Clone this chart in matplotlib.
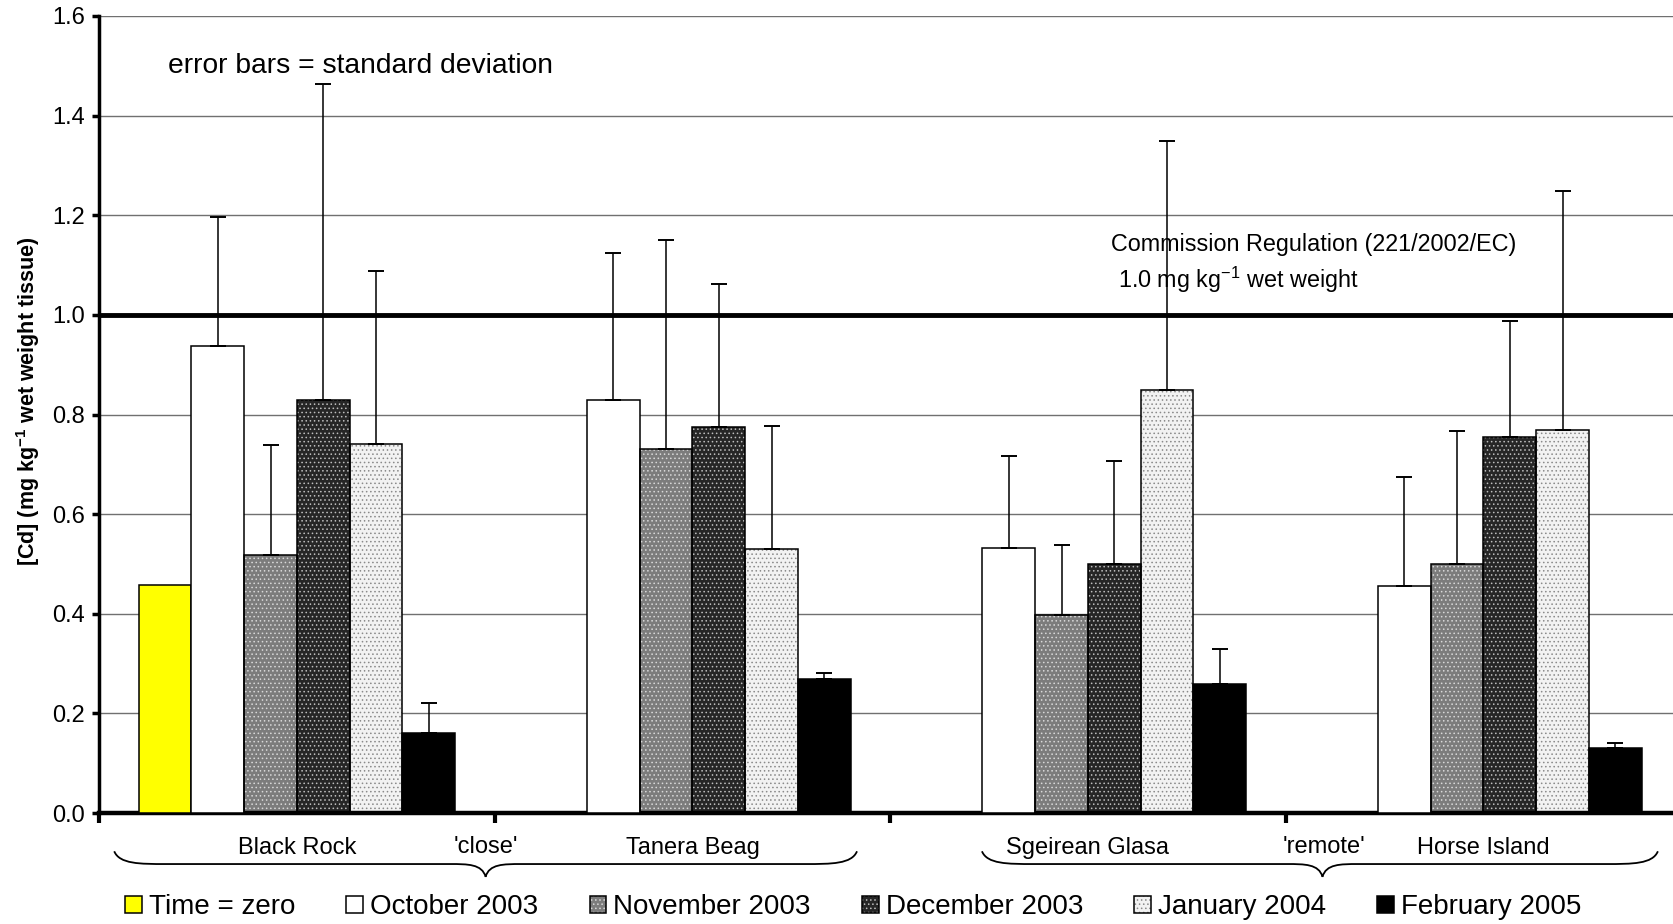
import numpy as np
import matplotlib
matplotlib.use('Agg')
import matplotlib.pyplot as plt
from matplotlib.patches import Patch, PathPatch
from matplotlib.path import Path
from matplotlib.legend_handler import HandlerTuple

plt.rcParams['font.family'] = ['Liberation Sans', 'DejaVu Sans']
plt.rcParams['mathtext.default'] = 'regular'
plt.rcParams['hatch.linewidth'] = 0.6

nan = np.nan
sites = ['Black Rock', 'Tanera Beag', 'Sgeirean Glasa', 'Horse Island']
series_names = ['Time = zero', 'October 2003', 'November 2003',
                'December 2003', 'January 2004', 'February 2005']

time_zero = [0.458, nan, nan, nan]
oct_2003 = [0.938, 0.829, 0.533, 0.456]
nov_2003 = [0.518, 0.730, 0.398, 0.499]
dec_2003 = [0.829, 0.775, 0.499, 0.754]
jan_2004 = [0.741, 0.531, 0.850, 0.769]
feb_2005 = [0.160, 0.270, 0.259, 0.131]

time_zero_sd = [nan, nan, nan, nan]
oct_2003_sd = [0.259, 0.295, 0.184, 0.219]
nov_2003_sd = [0.221, 0.420, 0.140, 0.268]
dec_2003_sd = [0.634, 0.287, 0.208, 0.233]
jan_2004_sd = [0.347, 0.246, 0.499, 0.480]
feb_2005_sd = [0.060, 0.011, 0.071, 0.010]

regulation_limit = 1.0
y_ticks = [0.0, 0.2, 0.4, 0.6, 0.8, 1.0, 1.2, 1.4, 1.6]

means = [time_zero, oct_2003, nov_2003, dec_2003, jan_2004, feb_2005]
sds = [time_zero_sd, oct_2003_sd, nov_2003_sd, dec_2003_sd, jan_2004_sd, feb_2005_sd]

# styles: (face, hatch, hatch colour)
styles = [
    ('#ffff00', None, None),
    ('#ffffff', None, None),
    ('#7c7c7c', '....', '#d8d8d8'),
    ('#262626', '....', '#bdbdbd'),
    ('#f2f2f2', '....', '#8a8a8a'),
    ('#000000', None, None),
]

fig = plt.figure(figsize=(16.73, 9.24), dpi=100)
ax = fig.add_axes([0.0593, 0.1201, 0.9456, 0.8626])

x = np.arange(len(sites))
w = 1 / 7.5
edge_lw = 1.1

legend_handles = []
for k, (vals, sd, (face, hatch, hcol)) in enumerate(zip(means, sds, styles)):
    vals = np.array(vals, dtype=float)
    sd = np.array(sd, dtype=float)
    xs = x + (k - 2.5) * w
    ok = ~np.isnan(vals)
    if hatch:
        ax.bar(xs[ok], vals[ok], width=w, color=face, hatch=hatch,
               edgecolor=hcol, linewidth=0, zorder=2)
        ax.bar(xs[ok], vals[ok], width=w, fill=False, edgecolor='black',
               linewidth=edge_lw, zorder=3)
        h = (Patch(facecolor=face, hatch=hatch, edgecolor=hcol, linewidth=0),
             Patch(fill=False, edgecolor='black', linewidth=edge_lw))
    else:
        ax.bar(xs[ok], vals[ok], width=w, color=face, edgecolor='black',
               linewidth=edge_lw, zorder=3)
        h = (Patch(facecolor=face, edgecolor='black', linewidth=edge_lw),)
    legend_handles.append(h)
    ek = ok & ~np.isnan(sd)
    if ek.any():
        ax.errorbar(xs[ek], vals[ek], yerr=[np.zeros(ek.sum()), sd[ek]],
                    fmt='none', ecolor='black', elinewidth=1.1, capsize=6,
                    capthick=1.4, zorder=4)

ax.axhline(regulation_limit, color='black', lw=3.5, zorder=5)

ax.set_xlim(-0.5, 3.5)
ax.set_ylim(0, 1.6)
ax.set_yticks(y_ticks)
ax.set_yticklabels([f'{t:.1f}' for t in y_ticks], fontsize=17)
ax.yaxis.grid(True, color='#707070', lw=1.0)
ax.set_axisbelow(True)

ax.set_xticks(x)
ax.set_xticklabels(sites, fontsize=17)
ax.tick_params(axis='x', which='major', length=0, pad=17)
ax.set_xticks([-0.5, 0.5, 1.5, 2.5, 3.5], minor=True)
ax.tick_params(axis='x', which='minor', length=7, width=3, direction='out')
ax.tick_params(axis='y', which='major', length=5, width=2.5, direction='out', pad=5)

for s in ['top', 'right']:
    ax.spines[s].set_visible(False)
ax.spines['left'].set_linewidth(2.5)
ax.spines['bottom'].set_linewidth(3.2)

ax.set_ylabel('[Cd] (mg kg$^{-1}$ wet weight tissue)', fontsize=15.5,
              fontweight='bold')
ax.yaxis.set_label_coords(-0.036, 0.516)

ax.text(-0.325, 1.50, 'error bars = standard deviation', fontsize=20.3,
        ha='left', va='center')
ax.text(2.059, 1.142, 'Commission Regulation (221/2002/EC)', fontsize=16.8,
        ha='left', va='center')
ax.text(2.075, 1.071, '1.0 mg kg$^{-1}$ wet weight', fontsize=16.8,
        ha='left', va='center')

tr = ax.get_xaxis_transform()
ax.text(0.477, -0.042, "'close'", transform=tr, fontsize=17,
        ha='center', va='center')
ax.text(2.596, -0.042, "'remote'", transform=tr, fontsize=17,
        ha='center', va='center')


def brace(x0, x1, xt, ye=-0.048, yl=-0.064, yt=-0.080, c=0.13, ct=0.09):
    verts = [
        (x0, ye), (x0 + 0.1 * c, yl), (x0 + 0.5 * c, yl), (x0 + c, yl),
        (xt - ct, yl),
        (xt - 0.5 * ct, yl), (xt - 0.1 * ct, yl), (xt, yt),
        (xt + 0.1 * ct, yl), (xt + 0.5 * ct, yl), (xt + ct, yl),
        (x1 - c, yl),
        (x1 - 0.5 * c, yl), (x1 - 0.1 * c, yl), (x1, ye),
    ]
    codes = [Path.MOVETO, Path.CURVE4, Path.CURVE4, Path.CURVE4,
             Path.LINETO,
             Path.CURVE4, Path.CURVE4, Path.CURVE4,
             Path.CURVE4, Path.CURVE4, Path.CURVE4,
             Path.LINETO,
             Path.CURVE4, Path.CURVE4, Path.CURVE4]
    ax.add_patch(PathPatch(Path(verts, codes), transform=tr, fill=False,
                           lw=1.3, edgecolor='black', clip_on=False))


brace(-0.462, 1.416, 0.477)
brace(1.732, 3.441, 2.593)

fig.legend(legend_handles, series_names, loc='center',
           bbox_to_anchor=(0.51, 0.018), ncol=6, frameon=False,
           fontsize=20, handlelength=0.6, handleheight=0.6,
           handletextpad=0.25, columnspacing=1.85,
           handler_map={tuple: HandlerTuple(ndivide=1, pad=0)})

fig.savefig('out.png', dpi=100)
